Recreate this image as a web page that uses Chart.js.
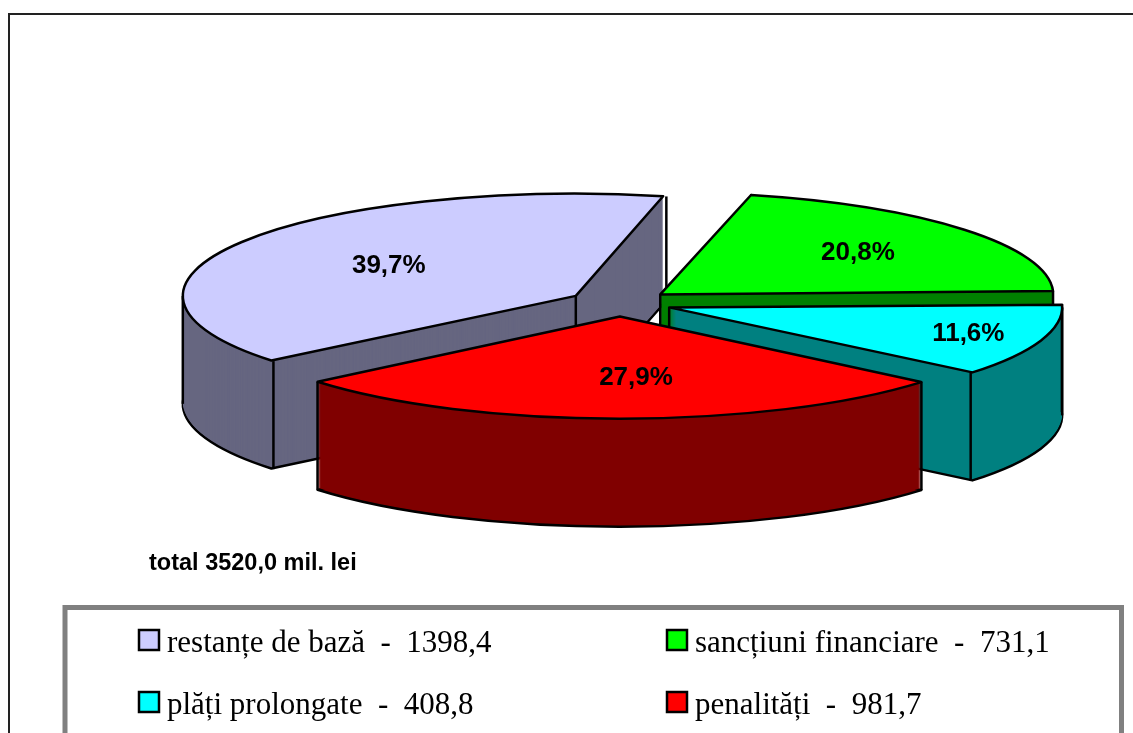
<!DOCTYPE html>
<html>
<head>
<meta charset="utf-8">
<title>restante</title>
<script src="https://cdn.jsdelivr.net/npm/chart.js@4/dist/chart.umd.min.js"></script>
<style>
html,body{margin:0;padding:0;background:#fff;overflow:hidden}
#wrap{position:absolute;left:0;top:0;width:1133px;height:733px}
</style>
</head>
<body>
<div id="wrap"><canvas id="myPie" width="1133" height="733"></canvas></div>
<script>
const categories = ['restanțe de bază', 'sancțiuni financiare', 'plăți prolongate', 'penalități'];
const values = [1398.4, 731.1, 408.8, 981.7];
const percents = ['39,7%', '20,8%', '11,6%', '27,9%'];
const valueLabels = ['1398,4', '731,1', '408,8', '981,7'];
const totalLabel = 'total 3520,0 mil. lei';
const topColors = ['#CCCCFF', '#00FF00', '#00FFFF', '#FF0000'];
const wallColors = ['#666680', '#008000', '#008080', '#800000'];

// look of the tilted pie
const FLAT = 0.26, DEPTH = 108, CX = 620, CY = 303, RADIUS = 393;
const EXPLODE = 208;                      // arc.draw moves a slice by offset/4
const LINE = 2.5;
const LABEL_R = [0.56, 0.65, 0.805, 0.60]; // how far along the slice the percent sits
const LABEL_TURN = [0, 0, 0, -0.07];
const LEGEND_POS = [[139, 630], [667, 630], [139, 692], [667, 692]];
// which vertical wall edges can be seen: apex, first rim point, last rim point
const SHOW_EDGES = [[1, 1, 1], [1, 0, 1], [1, 1, 1], [0, 1, 1]];

function sliceShift(arc){
    let off = arc.options.offset / 4;
    let mid = (arc.startAngle + arc.endAngle) / 2;
    return {x: Math.cos(mid) * off, y: Math.sin(mid) * off, mid: mid};
}
function project(r, angle, s){
    return {
        x: CX + s.x + Math.cos(angle) * r,
        y: CY + (s.y + Math.sin(angle) * r) * FLAT
    };
}
function drawFlat(ctx, arc, opts, dy){
    // squash the real arc element, but stroke it with an unsquashed pen
    let saved = arc.options;
    let savedR = arc.outerRadius;
    arc.options = Object.assign({}, saved, opts);
    // chart.js grows the radius of an offset slice, take that back
    let fix = 1 - Math.sin(Math.min(Math.PI, arc.circumference));
    arc.outerRadius = savedR - saved.offset / 4 * fix;
    let realStroke = ctx.stroke;
    ctx.stroke = function(){
        ctx.save();
        ctx.setTransform(1, 0, 0, 1, 0, 0);
        realStroke.call(ctx);
        ctx.restore();
    };
    ctx.save();
    ctx.translate(CX - arc.x, CY + dy);
    ctx.scale(1, FLAT);
    ctx.translate(0, -arc.y);
    arc.draw(ctx);
    ctx.restore();
    delete ctx.stroke;
    arc.options = saved;
    arc.outerRadius = savedR;
}
function vLine(ctx, p){
    ctx.beginPath();
    ctx.moveTo(p.x, p.y);
    ctx.lineTo(p.x, p.y + DEPTH);
    ctx.stroke();
}
function drawSlice(ctx, arc, i){
    let s = sliceShift(arc);
    // bottom outline first, the sweep covers what should not show
    drawFlat(ctx, arc, {backgroundColor: wallColors[i], borderColor: '#000', borderWidth: LINE, borderJoinStyle: 'round'}, DEPTH);
    for(let d = DEPTH - 2; d >= 0; d--){
        drawFlat(ctx, arc, {backgroundColor: wallColors[i], borderWidth: 0}, d);
    }
    ctx.strokeStyle = '#000';
    ctx.lineWidth = LINE;
    let edges = SHOW_EDGES[i];
    if(edges[0]) vLine(ctx, project(0, 0, s));
    if(edges[1]) vLine(ctx, project(arc.outerRadius, arc.startAngle, s));
    if(edges[2]) vLine(ctx, project(arc.outerRadius, arc.endAngle, s));
    // silhouette sides where the rim turns
    [Math.PI, 2 * Math.PI, 3 * Math.PI].forEach(a => {
        if(a > arc.startAngle && a < arc.endAngle) vLine(ctx, project(arc.outerRadius, a, s));
    });
    drawFlat(ctx, arc, {backgroundColor: topColors[i], borderColor: '#000', borderWidth: LINE, borderJoinStyle: 'round'}, 0);
}

const piePlugin = {
    id: 'pie3d',
    beforeDatasetsDraw(chart){
        let ctx = chart.ctx;
        let arcs = chart.getDatasetMeta(0).data;
        // back slices first, red one is at the front
        arcs.forEach((arc, i) => drawSlice(ctx, arc, i));
        ctx.fillStyle = '#000';
        ctx.font = 'bold 26px "Liberation Sans"';
        ctx.textAlign = 'center';
        ctx.textBaseline = 'middle';
        arcs.forEach((arc, i) => {
            let s = sliceShift(arc);
            let p = project(arc.outerRadius * LABEL_R[i], s.mid + LABEL_TURN[i], s);
            ctx.fillText(percents[i], p.x, p.y);
        });
        return false;
    },
    afterDraw(chart){
        let ctx = chart.ctx;
        ctx.save();
        // outer frame, its right and bottom sides are off the page
        ctx.strokeStyle = '#222';
        ctx.lineWidth = 2;
        ctx.strokeRect(9, 14, 1300, 900);
        ctx.fillStyle = '#000';
        ctx.font = 'bold 23.5px "Liberation Sans"';
        ctx.textAlign = 'left';
        ctx.textBaseline = 'alphabetic';
        ctx.fillText(totalLabel, 149, 570);
        // legend box
        ctx.strokeStyle = '#808080';
        ctx.lineWidth = 5;
        ctx.strokeRect(65, 607.5, 1056.5, 200);
        ctx.font = '31px "Liberation Serif"';
        categories.forEach((c, i) => {
            let p = LEGEND_POS[i];
            ctx.fillStyle = topColors[i];
            ctx.strokeStyle = '#000';
            ctx.lineWidth = LINE;
            ctx.fillRect(p[0], p[1], 20, 20);
            ctx.strokeRect(p[0], p[1], 20, 20);
            ctx.fillStyle = '#000';
            ctx.fillText(c + '  -  ' + valueLabels[i], p[0] + 28, p[1] + 22);
        });
        ctx.restore();
    }
};

new Chart(document.getElementById('myPie').getContext('2d'), {
    type: 'pie',
    data: {
        labels: categories,
        datasets: [{data: values, backgroundColor: topColors, offset: EXPLODE, borderWidth: 0}]
    },
    options: {
        responsive: false,
        animation: false,
        radius: RADIUS,
        rotation: 230.3,
        layout: {padding: 0},
        plugins: {legend: {display: false}, tooltip: {enabled: false}}
    },
    plugins: [piePlugin]
});
</script>
</body>
</html>
